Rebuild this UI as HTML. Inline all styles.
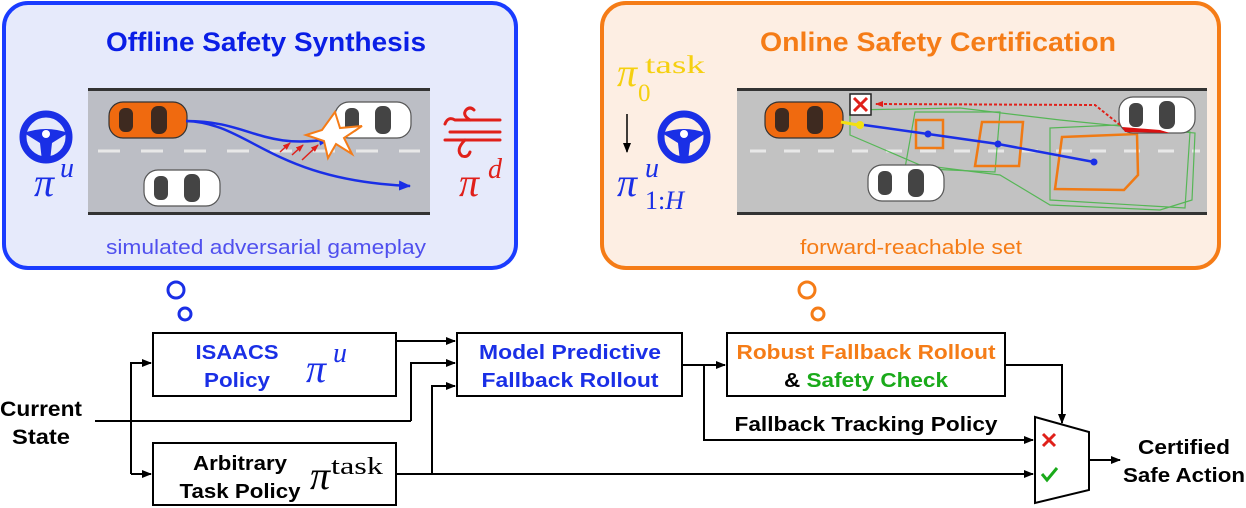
<!DOCTYPE html>
<html><head><meta charset="utf-8"><style>
html,body{margin:0;padding:0;background:#fff;}
svg{display:block;}
.b{font-family:"Liberation Sans",sans-serif;font-weight:bold;}
.m{font-family:"Liberation Serif",serif;font-style:italic;}
.r{font-family:"Liberation Serif",serif;}
</style></head><body>
<svg width="1246" height="508" viewBox="0 0 1246 508" xmlns="http://www.w3.org/2000/svg">
<defs>
<marker id="ah" markerWidth="10" markerHeight="8" refX="9" refY="4" orient="auto" markerUnits="userSpaceOnUse"><path d="M0,0 L10,4 L0,8 z" fill="#000"/></marker>
<marker id="bh" markerWidth="12" markerHeight="10" refX="11" refY="5" orient="auto" markerUnits="userSpaceOnUse"><path d="M0,0 L12,5 L0,10 z" fill="#1a2fe6"/></marker>
<marker id="rh" markerWidth="8" markerHeight="6" refX="7" refY="3" orient="auto" markerUnits="userSpaceOnUse"><path d="M0,0 L8,3 L0,6 z" fill="#e0201a"/></marker>
<g id="wheel"><circle cx="0" cy="0" r="23" fill="none" stroke="#1a2fe6" stroke-width="7"/><path d="M-22,-4 Q0,-12 22,-4 L6,6 L4,24 L-4,24 L-6,6 z" fill="#1a2fe6"/><circle cx="0" cy="-3" r="4" fill="#fff"/></g>
<g id="wcar"><rect x="0" y="0" width="76" height="36" rx="14" fill="#fff" stroke="#555" stroke-width="1.2"/><rect x="10" y="6" width="14" height="24" rx="6" fill="#444"/><rect x="40" y="4" width="16" height="28" rx="7" fill="#444"/></g>
<g id="ocar"><rect x="0" y="0" width="78" height="36" rx="14" fill="#f06a0f" stroke="#333" stroke-width="1.2"/><rect x="10" y="6" width="14" height="24" rx="6" fill="#3e2a20"/><rect x="42" y="4" width="16" height="28" rx="7" fill="#3e2a20"/></g>
</defs>

<!-- Left panel -->
<rect x="4" y="3" width="512" height="265" rx="24" fill="#e6eafb" stroke="#1a3cff" stroke-width="4"/>
<text x="266" y="51" text-anchor="middle" class="b" font-size="27" fill="#0a1ee6" textLength="320" lengthAdjust="spacingAndGlyphs">Offline Safety Synthesis</text>
<rect x="88" y="89" width="342" height="124" fill="#bcbec5"/>
<rect x="88" y="88" width="342" height="3" fill="#333"/>
<rect x="88" y="212" width="342" height="3" fill="#333"/>
<line x1="98" y1="151" x2="420" y2="151" stroke="#e8e8e8" stroke-width="3" stroke-dasharray="22,21"/>
<use href="#ocar" x="109" y="102"/>
<use href="#wcar" x="335" y="102"/>
<use href="#wcar" x="144" y="170"/>
<path d="M186,121 C250,121 260,150 330,139" fill="none" stroke="#1a2fe6" stroke-width="2.5" marker-end="url(#bh)"/>
<path d="M186,121 C250,123 270,180 410,186" fill="none" stroke="#1a2fe6" stroke-width="2.5" marker-end="url(#bh)"/>
<line x1="280" y1="152" x2="290" y2="143" stroke="#e0201a" stroke-width="1.5" marker-end="url(#rh)"/>
<line x1="292" y1="155" x2="303" y2="145" stroke="#e0201a" stroke-width="1.5" marker-end="url(#rh)"/>
<line x1="302" y1="160" x2="318" y2="145" stroke="#e0201a" stroke-width="1.5" marker-end="url(#rh)"/>
<path d="M335,112 L340,128 L362,126 L344,138 L352,154 L336,144 L328,158 L324,141 L306,135 L322,130 z" fill="#fff" stroke="#f57c17" stroke-width="2"/>
<use href="#wheel" x="46" y="137"/>
<text x="34" y="196" class="m" font-size="40" fill="#1a2fe6">π</text>
<text x="60" y="177" class="m" font-size="28" fill="#1a2fe6">u</text>
<g fill="none" stroke="#e0201a" stroke-width="3" stroke-linecap="round">
<path d="M445,124 Q448,116 455,120 L500,120"/><path d="M445,140 L500,140"/><path d="M450,132 L500,132"/>
<path d="M470,120 Q462,115 466,110 Q470,106 474,110"/><path d="M465,140 Q455,150 462,156 Q468,158 470,152"/>
</g>
<text x="459" y="196" class="m" font-size="40" fill="#e0201a">π</text>
<text x="488" y="178" class="m" font-size="28" fill="#e0201a">d</text>
<text x="266" y="254" text-anchor="middle" font-family="Liberation Sans,sans-serif" font-size="20" fill="#5050ee" textLength="320" lengthAdjust="spacingAndGlyphs">simulated adversarial gameplay</text>

<!-- Right panel -->
<rect x="602" y="3" width="617" height="265" rx="24" fill="#fdeee3" stroke="#f57c17" stroke-width="4"/>
<text x="938" y="51" text-anchor="middle" class="b" font-size="27" fill="#f57c17" textLength="356" lengthAdjust="spacingAndGlyphs">Online Safety Certification</text>
<rect x="737" y="89" width="470" height="124" fill="#c2c2c2"/>
<rect x="737" y="88" width="470" height="3" fill="#333"/>
<rect x="737" y="212" width="470" height="3" fill="#333"/>
<line x1="750" y1="151" x2="1200" y2="151" stroke="#e8e8e8" stroke-width="3" stroke-dasharray="16,18"/>
<g fill="none" stroke="#3cb43c" stroke-width="1.2" opacity="0.8">
<path d="M850,110 L960,108 L1060,120 L1140,128 L1195,133 L1192,200 L1160,210 L1050,205 L1000,175 L920,165 L850,135 z"/>
<path d="M915,112 L1000,112 L995,172 L905,168 z"/>
<path d="M1050,128 L1140,124 L1190,132 L1185,208 L1050,200 z"/>
</g>
<g fill="none" stroke="#f07a14" stroke-width="2.5">
<rect x="916" y="120" width="27" height="28"/>
<path d="M982,122 L1023,122 L1019,166 L975,166 z"/>
<path d="M1062,137 L1137,134 L1138,175 L1124,190 L1055,189 z"/>
</g>
<use href="#ocar" x="765" y="102"/>
<use href="#wcar" x="1119" y="97"/>
<path d="M1122,127 L1160,130 L1170,133 L1125,132 z" fill="#d91010"/>
<use href="#wcar" x="868" y="165"/>
<line x1="841" y1="122" x2="858" y2="125" stroke="#f2e010" stroke-width="3"/>
<circle cx="860" cy="125" r="4" fill="#f2e010"/>
<polyline points="864,125 928,134 998,144 1094,162" fill="none" stroke="#1a2fe6" stroke-width="2.5"/>
<circle cx="928" cy="134" r="3.5" fill="#1a2fe6"/><circle cx="998" cy="144" r="3.5" fill="#1a2fe6"/><circle cx="1094" cy="162" r="3.5" fill="#1a2fe6"/>
<polyline points="1120,125 1095,105 876,104" fill="none" stroke="#e0201a" stroke-width="2" stroke-dasharray="3,2" marker-end="url(#rh)"/>
<rect x="850" y="94" width="21" height="21" fill="#fff" stroke="#222" stroke-width="1.5"/>
<path d="M854,98 L867,111 M867,98 L854,111" stroke="#e0201a" stroke-width="3"/>
<text x="617" y="86" class="m" font-size="40" fill="#f5d010">π</text>
<text x="645" y="73" class="r" font-size="25" fill="#f5d010" textLength="60" lengthAdjust="spacingAndGlyphs">task</text>
<text x="638" y="101" class="r" font-size="25" fill="#f5d010">0</text>
<line x1="627" y1="114" x2="627" y2="152" stroke="#000" stroke-width="1.5" marker-end="url(#ah)"/>
<use href="#wheel" x="684" y="137"/>
<text x="617" y="196" class="m" font-size="40" fill="#1a2fe6">π</text>
<text x="645" y="177" class="m" font-size="28" fill="#1a2fe6">u</text>
<text x="645" y="209" class="r" font-size="26" fill="#1a2fe6">1:<tspan class="m">H</tspan></text>
<text x="911" y="254" text-anchor="middle" font-family="Liberation Sans,sans-serif" font-size="20" fill="#f57c17" textLength="222" lengthAdjust="spacingAndGlyphs">forward-reachable set</text>

<!-- bubbles -->
<circle cx="176" cy="290" r="8" fill="none" stroke="#1a2fe6" stroke-width="3"/>
<circle cx="185" cy="314" r="6" fill="none" stroke="#1a2fe6" stroke-width="3"/>
<circle cx="807" cy="290" r="8" fill="none" stroke="#f57c17" stroke-width="3"/>
<circle cx="818" cy="314" r="6" fill="none" stroke="#f57c17" stroke-width="3"/>

<!-- Block diagram -->
<g fill="none" stroke="#000" stroke-width="2">
<rect x="153" y="333" width="243" height="63"/>
<rect x="153" y="443" width="243" height="62"/>
<rect x="457" y="333" width="225" height="63"/>
<rect x="727" y="333" width="278" height="63"/>
<path d="M1035,417 L1089,432 L1089,490 L1035,503 z"/>
</g>
<g fill="none" stroke="#000" stroke-width="2">
<line x1="95" y1="421" x2="411" y2="421"/>
<polyline points="411,421 411,363 455,363" marker-end="url(#ah)"/>
<polyline points="131,474 131,363 151,363" marker-end="url(#ah)"/>
<line x1="131" y1="474" x2="151" y2="474" marker-end="url(#ah)"/>
<line x1="396" y1="341" x2="455" y2="341" marker-end="url(#ah)"/>
<line x1="396" y1="474" x2="1033" y2="474" marker-end="url(#ah)"/>
<polyline points="432,474 432,386 455,386" marker-end="url(#ah)"/>
<line x1="682" y1="365" x2="725" y2="365" marker-end="url(#ah)"/>
<polyline points="704,365 704,440 1033,440" marker-end="url(#ah)"/>
<polyline points="1005,365 1062,365 1062,423" marker-end="url(#ah)"/>
<line x1="1089" y1="460" x2="1120" y2="460" marker-end="url(#ah)"/>
</g>
<text x="41" y="416" text-anchor="middle" class="b" font-size="21" textLength="82" lengthAdjust="spacingAndGlyphs">Current</text>
<text x="41" y="444" text-anchor="middle" class="b" font-size="21" textLength="58" lengthAdjust="spacingAndGlyphs">State</text>
<text x="237" y="359" text-anchor="middle" class="b" font-size="20" fill="#1a2fe6" textLength="83" lengthAdjust="spacingAndGlyphs">ISAACS</text>
<text x="237" y="387" text-anchor="middle" class="b" font-size="20" fill="#1a2fe6" textLength="66" lengthAdjust="spacingAndGlyphs">Policy</text>
<text x="306" y="382" class="m" font-size="40" fill="#1a2fe6">π</text>
<text x="333" y="362" class="m" font-size="28" fill="#1a2fe6">u</text>
<text x="240" y="470" text-anchor="middle" class="b" font-size="20" textLength="94" lengthAdjust="spacingAndGlyphs">Arbitrary</text>
<text x="240" y="498" text-anchor="middle" class="b" font-size="20" textLength="121" lengthAdjust="spacingAndGlyphs">Task Policy</text>
<text x="310" y="489" class="m" font-size="40">π</text>
<text x="331" y="474" class="r" font-size="24" textLength="52" lengthAdjust="spacingAndGlyphs">task</text>
<text x="570" y="359" text-anchor="middle" class="b" font-size="20" fill="#1a2fe6" textLength="182" lengthAdjust="spacingAndGlyphs">Model Predictive</text>
<text x="570" y="387" text-anchor="middle" class="b" font-size="20" fill="#1a2fe6" textLength="177" lengthAdjust="spacingAndGlyphs">Fallback Rollout</text>
<text x="866" y="359" text-anchor="middle" class="b" font-size="20" fill="#f57c17" textLength="259" lengthAdjust="spacingAndGlyphs">Robust Fallback Rollout</text>
<text x="866" y="387" text-anchor="middle" class="b" font-size="20" textLength="164" lengthAdjust="spacingAndGlyphs"><tspan fill="#000">&amp; </tspan><tspan fill="#1aaa1a">Safety Check</tspan></text>
<text x="866" y="431" text-anchor="middle" class="b" font-size="20" textLength="263" lengthAdjust="spacingAndGlyphs">Fallback Tracking Policy</text>
<path d="M1043,434 L1055,446 M1055,434 L1043,446" stroke="#e0201a" stroke-width="3"/>
<path d="M1042,474 L1047,480 L1057,468" fill="none" stroke="#1aaa1a" stroke-width="3"/>
<text x="1184" y="454" text-anchor="middle" class="b" font-size="20" textLength="92" lengthAdjust="spacingAndGlyphs">Certified</text>
<text x="1184" y="482" text-anchor="middle" class="b" font-size="20" textLength="122" lengthAdjust="spacingAndGlyphs">Safe Action</text>
</svg>
</body></html>
